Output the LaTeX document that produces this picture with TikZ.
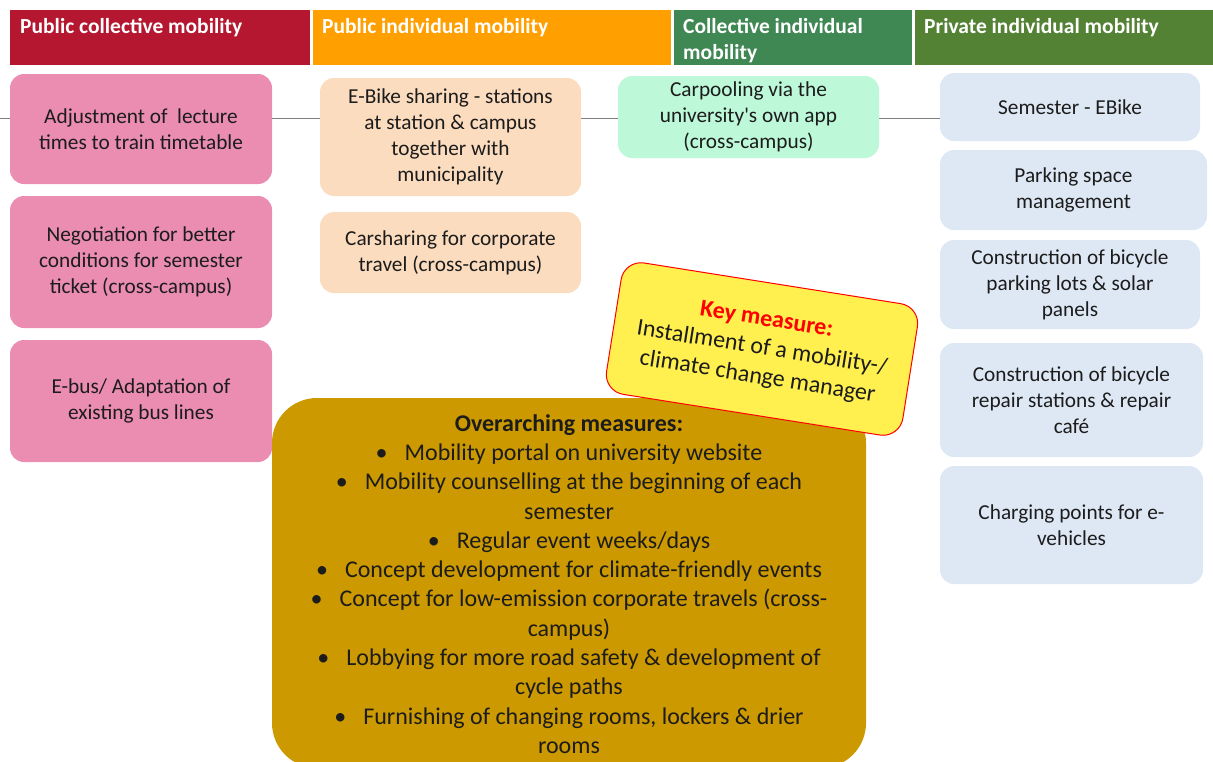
\documentclass[tikz,border=0pt]{standalone}
\usepackage{fontspec}
\setmainfont{Carlito}
\definecolor{hdrRed}{HTML}{B4172F}
\definecolor{hdrOrange}{HTML}{FF9F00}
\definecolor{hdrGreen}{HTML}{3F8854}
\definecolor{hdrOlive}{HTML}{548235}
\definecolor{pinkBox}{HTML}{EB8DB1}
\definecolor{peachBox}{HTML}{FBDCBF}
\definecolor{mintBox}{HTML}{BDF8D8}
\definecolor{blueBox}{HTML}{DEE8F5}
\definecolor{goldBox}{HTML}{CC9900}
\definecolor{keyYellow}{HTML}{FFF04F}
\definecolor{keyRed}{HTML}{FF0000}
\definecolor{bodyText}{HTML}{1C1C1C}
\definecolor{axisGray}{HTML}{7F7F7F}
\newcommand\bulletgap{\textbullet\hspace{17pt}}
\begin{document}
\begin{tikzpicture}[x=1pt,y=-1pt,
  headbar/.style={fill=#1, draw=none, inner sep=0, minimum height=55, anchor=north west},
  headtext/.style={text=white, anchor=base west, align=left, inner sep=0,
    font=\fontsize{21.5}{26}\selectfont\bfseries},
  measure/.style={fill=#1, draw=none, rounded corners=14, align=center, inner sep=0,
    text=bodyText, font=\fontsize{21.3}{26}\selectfont},
  overarch/.style={fill=goldBox, draw=none, rounded corners=45, align=center, inner sep=0,
    text=bodyText, font=\fontsize{24}{29.3}\selectfont},
  keybox/.style={fill=keyYellow, draw=keyRed, line width=1pt, rounded corners=20, align=center,
    inner sep=0, text=bodyText, font=\fontsize{24}{29}\selectfont},
  timeline/.style={draw=axisGray, line width=1.2pt}
]
\useasboundingbox (0,0) rectangle (1213,761);

% column headers
\node[headbar=hdrRed,    minimum width=300] (h1) at (10,10) {};
\node[headbar=hdrOrange, minimum width=358] (h2) at (313,10) {};
\node[headbar=hdrGreen,  minimum width=238] (h3) at (674,10) {};
\node[headbar=hdrOlive,  minimum width=298] (h4) at (915,10) {};
\node[headtext] (t1) at (20,33) {Public collective mobility};
\node[headtext] (t2) at (322,33) {Public individual mobility};
\node[headtext] (t3) at (683,59) {Collective individual\\mobility};
\node[headtext] (t4) at (924,33) {Private individual mobility};

% horizontal line running behind the first row
\coordinate (lineStart) at (0,118.5);
\coordinate (lineEnd) at (940,118.5);
\draw[timeline] (lineStart) -- (lineEnd);

% public collective mobility
\node[measure=pinkBox, minimum width=262, minimum height=110] (p1) at (141,129)
  {Adjustment of \ lecture\\times to train timetable};
\node[measure=pinkBox, minimum width=262, minimum height=132] (p2) at (141,262)
  {Negotiation for better\\conditions for semester\\ticket (cross-campus)};
\node[measure=pinkBox, minimum width=262, minimum height=122] (p3) at (141,401)
  {E-bus/ Adaptation of\\existing bus lines};

% public individual mobility
\node[measure=peachBox, minimum width=261, minimum height=118] (o1) at (450.5,137)
  {E-Bike sharing - stations\\at station \& campus\\together with\\municipality};
\node[measure=peachBox, minimum width=261, minimum height=81] (o2) at (450.5,252.5)
  {Carsharing for corporate\\travel (cross-campus)};

% collective individual mobility
\node[measure=mintBox, minimum width=261, minimum height=82] (g1) at (748.5,117)
  {Carpooling via the\\university\textquotesingle s own app\\(cross-campus)};

% private individual mobility
\node[measure=blueBox, minimum width=260, minimum height=68] (b1) at (1070,107)
  {Semester - EBike};
\node[measure=blueBox, minimum width=267, minimum height=80] (b2) at (1073.5,190)
  {Parking space\\management};
\node[measure=blueBox, minimum width=260, minimum height=89] (b3) at (1070,284.5)
  {Construction of bicycle\\parking lots \& solar\\panels};
\node[measure=blueBox, minimum width=263, minimum height=114] (b4) at (1071.5,400)
  {Construction of bicycle\\repair stations \& repair\\café};
\node[measure=blueBox, minimum width=263, minimum height=118] (b5) at (1071.5,525)
  {Charging points for e-\\vehicles};

% overarching measures
\node[overarch, minimum width=594, minimum height=370] (ov) at (569,583) {};
\node[overarch, fill=none] (ovtext) at (569,584)
  {\textbf{Overarching measures:}\\
   \bulletgap Mobility portal on university website\\
   \bulletgap Mobility counselling at the beginning of each\\
   semester\\
   \bulletgap Regular event weeks/days\\
   \bulletgap Concept development for climate-friendly events\\
   \bulletgap Concept for low-emission corporate travels (cross-\\
   campus)\\
   \bulletgap Lobbying for more road safety \& development of\\
   cycle paths\\
   \bulletgap Furnishing of changing rooms, lockers \& drier\\
   rooms};

% key measure
\node[keybox, minimum width=300, minimum height=133, rotate=-9] (key) at (762,349)
  {\textcolor{keyRed}{\textbf{Key measure:}}\\
   Installment of a mobility-/\\
   climate change manager};
\end{tikzpicture}
\end{document}
